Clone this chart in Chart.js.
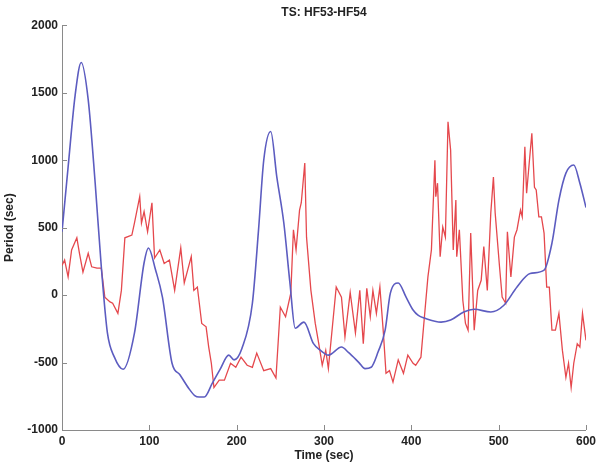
<!DOCTYPE html>
<html>
<head>
<meta charset="utf-8">
<script src="https://cdn.jsdelivr.net/npm/chart.js@4"></script>
<style>
html,body{margin:0;padding:0;background:#fff;}
#wrap{width:600px;height:466px;}
</style>
</head>
<body>
<div id="wrap"><canvas id="c" width="600" height="466"></canvas></div>
<script>
const chartTitle = "TS: HF53-HF54";
const xTitle = "Time (sec)";
const yTitle = "Period (sec)";
const xTicks = [0,100,200,300,400,500,600];
const yTicks = [-1000,-500,0,500,1000,1500,2000];

const blueT = [0,7,15,22,30,38,45,52,60,70,83,94,99,107,115,126,135,145,152,157,163,172,181,191,197,206,218,225,231,239,246,254,261,267,277,288,296,305,320,328,340,347,354,362,370,376,385,394,402,408,415,434,445,460,472,491,506,521,536,552,561,569,577,586,593,600];
const blueV = [470,950,1480,1725,1450,830,210,-280,-460,-550,-280,240,350,190,-15,-505,-590,-690,-745,-755,-755,-655,-550,-445,-480,-395,-60,480,1000,1213,875,535,90,-245,-200,-360,-410,-445,-385,-425,-500,-545,-535,-420,-260,15,90,-15,-110,-150,-170,-200,-185,-125,-105,-125,-75,60,160,185,385,705,905,965,830,650];

const redT = [0,3,7,11,17,20,24,30,34,40,45,49,55,58,64,68,72,80,83,89,91,94,98,103,106,112,117,123,129,136,140,148,151,155,160,165,168,171,174,180,186,193,199,205,212,218,223,231,239,245,250,256,262,265,268,272,274,278,280,285,290,294,298,302,305,314,320,324,330,336,341,345,349,353,356,360,364,368,371,375,379,385,391,396,402,405,411,415,419,423,427,428,430,433,436,439,442,445,448,451,452,455,459,462,465,468,472,476,480,483,487,491,494,496,501,504,508,510,514,518,521,525,527,530,532,535,538,541,543,546,549,552,555,558,561,565,569,573,577,580,583,586,590,593,596,600];
const redV = [220,260,135,335,425,310,170,310,210,200,200,-15,-50,-60,-135,35,425,445,535,730,535,620,470,685,275,335,235,260,35,350,90,285,35,60,-210,-235,-385,-505,-685,-630,-630,-505,-535,-460,-520,-535,-430,-560,-545,-615,-90,-160,15,485,335,630,685,980,430,35,-210,-360,-520,-410,-545,60,-15,-310,20,-280,35,-360,50,-160,35,-135,60,-280,-580,-560,-645,-480,-580,-445,-505,-520,-460,-160,135,335,1000,730,830,285,505,430,1285,1075,335,705,285,485,-40,-210,-260,460,-260,35,110,360,35,610,875,610,210,-15,-60,470,135,430,485,630,580,1100,755,980,1200,800,780,580,580,460,60,60,-260,-260,-135,-410,-610,-505,-685,-505,-360,-385,-135,-335];

const axisColor = '#8a8a8a';
const textColor = '#222';
const font = {family: 'Liberation Sans, Arial, sans-serif', size: 12, weight: 'bold'};

const innerTicks = {
  id: 'innerTicks',
  afterDatasetsDraw(chart) {
    const ctx = chart.ctx, xs = chart.scales.x, ys = chart.scales.y;
    const a = chart.chartArea;
    ctx.save();
    ctx.strokeStyle = axisColor;
    ctx.lineWidth = 1;
    ctx.beginPath();
    xTicks.forEach(v => {
      const px = Math.round(xs.getPixelForValue(v)) + 0.5;
      ctx.moveTo(px, a.bottom);
      ctx.lineTo(px, a.bottom - 5);
    });
    yTicks.forEach(v => {
      const py = Math.round(ys.getPixelForValue(v)) + 0.5;
      ctx.moveTo(a.left, py);
      ctx.lineTo(a.left + 5, py);
    });
    ctx.stroke();
    ctx.restore();
  }
};

new Chart(document.getElementById('c'), {
  type: 'line',
  data: {
    datasets: [
      {
        label: 'blue',
        data: blueT.map((t, i) => ({x: t, y: blueV[i]})),
        borderColor: '#5c5cc0',
        borderWidth: 1.6,
        pointRadius: 0,
        cubicInterpolationMode: 'monotone',
        fill: false
      },
      {
        label: 'red',
        data: redT.map((t, i) => ({x: t, y: redV[i]})),
        borderColor: '#e5484d',
        borderWidth: 1.3,
        pointRadius: 0,
        tension: 0,
        fill: false
      }
    ]
  },
  options: {
    responsive: false,
    animation: false,
    layout: {padding: {left: 0, right: 11, top: 0, bottom: 0}},
    plugins: {
      legend: {display: false},
      tooltip: {enabled: false},
      title: {
        display: true,
        text: chartTitle,
        fullSize: false,
        color: textColor,
        font: font,
        padding: {top: 5, bottom: 6}
      }
    },
    scales: {
      x: {
        type: 'linear',
        min: 0, max: 600,
        afterFit(s) { s.height = 36; },
        afterBuildTicks(s) { s.ticks = xTicks.map(v => ({value: v})); },
        grid: {display: true, drawOnChartArea: false, drawTicks: false},
        border: {display: true, color: axisColor, width: 1},
        ticks: {color: textColor, font: font, padding: 4, maxRotation: 0, callback: v => String(v)},
        title: {display: true, text: xTitle, color: textColor, font: font, padding: {top: 2, bottom: 3}}
      },
      y: {
        type: 'linear',
        min: -1000, max: 2000,
        afterFit(s) { s.width = 62; },
        afterBuildTicks(s) { s.ticks = yTicks.map(v => ({value: v})); },
        grid: {display: true, drawOnChartArea: false, drawTicks: false},
        border: {display: true, color: axisColor, width: 1},
        ticks: {color: textColor, font: font, padding: 4, callback: v => String(v)},
        title: {display: true, text: yTitle, color: textColor, font: font, padding: {top: 2, bottom: 2}}
      }
    }
  },
  plugins: [innerTicks]
});
</script>
</body>
</html>
